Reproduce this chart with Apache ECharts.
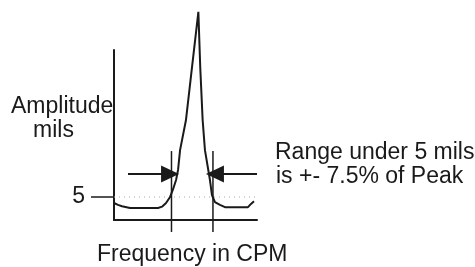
<!DOCTYPE html>
<html>
<head>
<meta charset="utf-8">
<script src="https://cdn.jsdelivr.net/npm/echarts@6/dist/echarts.min.js"></script>
<style>
  html, body { margin: 0; padding: 0; background: #fff; }
  #chart { width: 475px; height: 267px; }
</style>
</head>
<body>
<div id="chart"></div>
<script>
// response curve (x: relative frequency, y: mils)
const freq = [0, 2.8, 5.6, 11.2, 30.8, 33.6, 36.4, 39.2, 41.3, 43.4, 44.8, 46.2, 50.3, 53.5,
  59.0, 60.3, 62.0, 63.6, 67.1, 68.5, 70.6, 74.1, 77.6, 93.7, 95.8, 97.9];
const amplitude = [3.7, 3.3, 3.0, 2.6, 2.6, 2.9, 3.7, 5.0, 6.7, 8.7, 10.9, 15.2, 21.7, 30.4,
  45.3, 33.3, 21.7, 15.2, 8.7, 5.4, 3.9, 3.3, 2.8, 2.8, 3.5, 4.1];

// the 5 mils level and the band edges
const limitValue = 5;
const limitEnd = 104.2;
const bandEdges = [40.2, 69.2];
const bandTop = 15;
const bandBottom = -2.6;

// arrows pointing at the band edges
const arrowLevel = 10;
const leftArrow = [9.8, 39.2];
const rightArrow = [100, 70.6];

const yTicks = [5];

const font = 'Liberation Sans, Arial, sans-serif';
const ink = '#1a1a1a';

const chart = echarts.init(document.getElementById('chart'));

const option = {
  animation: false,
  grid: { left: 114, top: 50, width: 143, height: 170, containLabel: false },
  xAxis: {
    type: 'value', min: 0, max: 100,
    axisLine: { show: true, lineStyle: { color: ink, width: 2 } },
    axisTick: { show: false },
    axisLabel: { show: false },
    splitLine: { show: false }
  },
  yAxis: {
    type: 'value', min: 0, max: 37,
    axisLine: { show: true, lineStyle: { color: ink, width: 2 } },
    axisTick: { show: true, customValues: yTicks, length: 23, lineStyle: { color: ink, width: 1.5 } },
    axisLabel: { show: true, customValues: yTicks, margin: 29, fontSize: 23, fontFamily: font, color: ink },
    splitLine: { show: false }
  },
  graphic: [
    { type: 'text', style: { text: 'Amplitude', x: 11, y: 106.5, verticalAlign: 'middle', font: '23px ' + font, fill: ink } },
    { type: 'text', style: { text: 'mils', x: 33, y: 130.5, verticalAlign: 'middle', font: '23px ' + font, fill: ink } },
    { type: 'text', style: { text: 'Range under 5 mils', x: 275, y: 153, verticalAlign: 'middle', font: '23px ' + font, fill: ink } },
    { type: 'text', style: { text: 'is +- 7.5% of Peak', x: 276, y: 176.5, verticalAlign: 'middle', font: '23px ' + font, fill: ink } },
    { type: 'text', style: { text: 'Frequency in CPM', x: 97, y: 255, verticalAlign: 'middle', font: '23px ' + font, fill: ink } }
  ],
  series: [
    {
      type: 'line',
      data: [[0, limitValue], [limitEnd, limitValue]],
      showSymbol: false, clip: false, silent: true,
      lineStyle: { color: '#aaa', width: 1, type: [1, 4] },
      z: 1
    },
    {
      type: 'line',
      data: freq.map((f, i) => [f, amplitude[i]]),
      showSymbol: false, clip: false, silent: true,
      lineStyle: { color: ink, width: 2 },
      z: 3
    },
    ...bandEdges.map(x => ({
      type: 'line',
      data: [[x, bandTop], [x, bandBottom]],
      showSymbol: false, clip: false, silent: true,
      lineStyle: { color: ink, width: 1.5 },
      z: 2
    })),
    {
      type: 'line',
      data: [],
      silent: true,
      markLine: {
        silent: true,
        symbol: ['none', 'triangle'],
        symbolSize: [17, 18],
        label: { show: false },
        lineStyle: { color: ink, width: 2, type: 'solid' },
        data: [
          [{ coord: [leftArrow[0], arrowLevel] }, { coord: [leftArrow[1], arrowLevel] }],
          [{ coord: [rightArrow[0], arrowLevel] }, { coord: [rightArrow[1], arrowLevel] }]
        ]
      }
    }
  ]
};

chart.setOption(option);
</script>
</body>
</html>
